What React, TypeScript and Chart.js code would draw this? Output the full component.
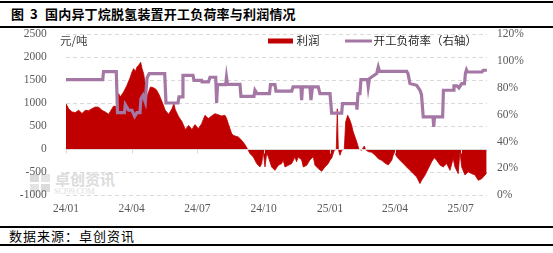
import React, { useEffect, useRef } from 'react';
import { Chart, registerables } from 'chart.js';

Chart.register(...registerables);

// ---- data ----
const titleText = '国内异丁烷脱氢装置开工负荷率与利润情况';
const seriesNames = ['利润', '开工负荷率（右轴）'];
const unitLabel = '元/吨';
const sourceText = '数据来源：卓创资讯';

// x values are days since 2024-01-01
const quarterDays = [0, 91, 182, 274, 366, 456, 547];
const quarterLabels = ['24/01', '24/04', '24/07', '24/10', '25/01', '25/04', '25/07'];

const profitDays = [
  0, 3.7, 8.3, 12.9, 17.6, 22.2, 26.8, 31.4, 36, 40.7, 45.3, 49.9, 54.5, 59.1, 63.7, 66.1, 70.7, 73, 75.3, 79.9,
  84.5, 89.2, 91.5, 93.8, 96.1, 98.4, 100.7, 103.5, 105.3, 107.6, 110, 112.3, 114.6, 117, 121, 125, 128.4, 133, 137.6, 142.3,
  146.9, 149.5, 151.5, 156.1, 160.8, 165.4, 170, 174.6, 178.8, 183.4, 188, 192.6, 197.2, 201.9, 206.5, 211.1, 215.7, 220.3, 222.7, 224.9,
  227.3, 229.6, 231.9, 234.2, 238.8, 243.5, 248.1, 251.8, 255, 259.6, 264.3, 268.8, 271.2, 273.4, 275.8, 278.1, 280.4, 285, 289.6, 294.2,
  298.9, 301, 303.5, 308.1, 312.8, 317.4, 319.5, 321.9, 326.6, 328.9, 333.6, 338.1, 342.7, 345.1, 349.6, 354.4, 358.9, 363.5, 366, 368.2,
  371.8, 374.6, 376, 377.4, 379.7, 382.1, 385.7, 387.6, 390.4, 393.6, 395.9, 398.1, 401.5, 404.2, 406, 409.8, 413.4, 415.3, 418.9, 423.6,
  428.2, 432.8, 437.5, 442.1, 446.6, 451.4, 455, 458.3, 462.9, 467.4, 472.1, 476.7, 481.3, 486, 490.6, 492.9, 497.5, 502.1, 506.8, 510.4,
  513.7, 518.3, 522.9, 527.6, 532.2, 536.7, 539.1, 543.6, 546, 548.4, 552.9, 557.5, 562.2, 566.8, 571.4, 576.1, 580.7, 583,
];
const profitValues = [
  990, 880, 811, 800, 848, 780, 848, 840, 884, 920, 915, 848, 811, 760, 884, 942, 920, 1210, 1140, 1246,
  1391, 1572, 1681, 1754, 1690, 1790, 1826, 1890, 1760, 1645, 1400, 1150, 1250, 1355, 1340, 1300, 1210, 1040, 848, 760,
  884, 993, 860, 710, 600, 430, 520, 430, 537, 449, 558, 739, 667, 725, 775, 750, 725, 739, 667, 558,
  449, 341, 304, 290, 268, 196, 101, 0, -94, -167, -311, -384, -311, -50, -384, -90, -160, -384, -457, -348,
  -311, -230, -384, -348, -311, -167, -270, -167, -230, -384, -348, -230, -160, -348, -420, -478, -384, -311, -230, -196,
  -20, 0, 880, 0, -130, -20, 0, 594, 739, 630, 522, 377, 232, 100, 0, -20, 72, -10, -50, -65,
  -123, -203, -240, -300, -340, -240, -50, -160, -240, -311, -384, -457, -529, -601, -746, -674, -565, -420, -270, -181,
  -240, -340, -384, -311, -457, -200, -384, -529, -50, -384, -557, -490, -529, -557, -674, -640, -557, -522,
];

const loadDays = [
  0, 50.9, 52, 69.7, 71.4, 81, 82.2, 86.9, 91.5, 95.2, 98.4, 102.5, 103.9, 106.7, 109.9, 112.3, 115.4, 136.8, 138.6, 155.2,
  156.6, 160.8, 162.1, 176, 177.4, 188, 188.5, 197.5, 199.6, 207.5, 208.8, 210, 221.3, 222.4, 223.8, 241.1, 242.5, 260.5, 261.9, 264.7,
  282, 283.4, 289.6, 291, 312.8, 314.7, 325.6, 326.6, 327.7, 338.1, 339.5, 341.6, 349.6, 352, 365.9, 368.2, 382.1, 383.2, 402.6, 403.3,
  404.7, 407.4, 408.8, 417.8, 418.9, 420.6, 423.6, 430.6, 432.8, 434.5, 472.2, 474, 476.7, 486, 490.6, 492.7, 495.1, 508.6, 509.7, 510.7,
  522, 523.1, 536.7, 537.7, 541.9, 544.6, 548.4, 552.3, 553.6, 555, 556.4, 576.5, 578.3, 583.4,
];
const loadRates = [
  86.2, 86.2, 92.2, 92.2, 61.6, 61.6, 67.6, 63.4, 63.4, 58.9, 61.6, 61.6, 72, 74.5, 69.5, 87.4, 90.7, 90.7, 68.8, 68.8,
  73.3, 73.3, 89.4, 89.4, 85.7, 85.7, 84.5, 84.5, 88, 88, 68.8, 82.5, 82.5, 88, 82.7, 82.7, 73.8, 73.8, 78.3, 75.8,
  75.8, 82.5, 82.5, 77.7, 77.7, 80.8, 80.8, 71, 80.8, 80.8, 71, 80.8, 80.8, 75.8, 75.8, 61.3, 61.3, 68.3, 68.3, 63.9,
  75.8, 75.8, 86.2, 86.2, 80.8, 87, 88.2, 90.7, 95.6, 92.4, 92.4, 90.7, 83.3, 82, 78.3, 75, 58.4, 58.4, 51, 58.4,
  58.4, 78.3, 78.3, 81.5, 81.5, 80, 83.3, 83.3, 91, 93.5, 91.9, 91.9, 93.2, 93.2,
];

const leftMin = -1000;
const leftMax = 2500;
const leftStep = 500;
const rightMin = 0;
const rightMax = 120;
const rightStep = 20;

// ---- styles ----
const RED = '#C00000';
const PURPLE = '#A477A5';
const GRID = '#D9D9D9';
const TICK = '#595959';
const CJK = '"Noto Sans CJK SC", "Noto Sans", sans-serif';
const NUM = '"Liberation Serif", serif';

const overlayPlugin = {
  id: 'overlay',
  afterDatasetsDraw(chart: any) {
    const { ctx, chartArea, scales } = chart;
    const y0 = Math.round(scales.y.getPixelForValue(0)) + 0.5;
    ctx.save();
    ctx.strokeStyle = GRID;
    ctx.lineWidth = 1;
    ctx.setLineDash([]);
    ctx.beginPath();
    ctx.moveTo(chartArea.left, y0);
    ctx.lineTo(chartArea.right, y0);
    scales.x.ticks.forEach((t: any) => {
      const px = Math.round(scales.x.getPixelForValue(t.value)) + 0.5;
      ctx.moveTo(px, y0);
      ctx.lineTo(px, y0 + 4);
    });
    ctx.stroke();
    ctx.restore();
  },
  afterDraw(chart: any) {
    const { ctx, chartArea } = chart;
    const ly = chartArea.top + 6.7;
    ctx.save();
    ctx.textBaseline = 'middle';
    ctx.textAlign = 'left';
    ctx.font = `11.5px ${CJK}`;
    ctx.fillStyle = '#404040';
    ctx.fillText(unitLabel, 60, ly);
    const ds = chart.data.datasets;
    // legend item 1 (area)
    ctx.fillStyle = ds[0].backgroundColor;
    ctx.fillRect(268, ly - 2.5, 25, 5);
    ctx.fillStyle = '#262626';
    ctx.fillText(ds[0].label, 296.5, ly);
    // legend item 2 (line)
    ctx.strokeStyle = ds[1].borderColor;
    ctx.lineWidth = 3;
    ctx.beginPath();
    ctx.moveTo(345, ly);
    ctx.lineTo(372, ly);
    ctx.stroke();
    ctx.fillText(ds[1].label, 373.5, ly);
    ctx.restore();
  },
};

const fixVertical = (s: any) => {
  s.width = 66;
  s.paddingTop = 0;
  s.paddingBottom = 0;
};

export default function App() {
  const ref = useRef<HTMLCanvasElement>(null);

  useEffect(() => {
    const canvas = ref.current;
    if (!canvas) return;
    const chart = new Chart(canvas, {
      type: 'line',
      data: {
        datasets: [
          {
            label: seriesNames[0],
            data: profitDays.map((d, i) => ({ x: d, y: profitValues[i] })),
            yAxisID: 'y',
            borderColor: RED,
            backgroundColor: RED,
            borderWidth: 0.8,
            fill: 'origin',
            pointRadius: 0,
            tension: 0,
            order: 1,
          },
          {
            label: seriesNames[1],
            data: loadDays.map((d, i) => ({ x: d, y: loadRates[i] })),
            yAxisID: 'y1',
            borderColor: PURPLE,
            backgroundColor: PURPLE,
            borderWidth: 3.2,
            fill: false,
            pointRadius: 0,
            tension: 0,
            order: 0,
          },
        ],
      } as any,
      options: {
        animation: false,
        responsive: false,
        devicePixelRatio: 1,
        layout: { padding: { top: 14.3, bottom: 0, left: 0, right: 0 } },
        plugins: { legend: { display: false }, tooltip: { enabled: false } },
        scales: {
          x: {
            type: 'linear',
            min: quarterDays[0],
            max: 583.5,
            afterBuildTicks: (s: any) => {
              s.ticks = quarterDays.map((v) => ({ value: v }));
            },
            afterFit: (s: any) => {
              s.height = 29.7;
            },
            grid: { display: false, drawTicks: false },
            border: { display: false },
            ticks: {
              autoSkip: false,
              maxRotation: 0,
              padding: 7,
              color: TICK,
              font: { family: NUM, size: 11.5 },
              callback: (v: any) => {
                const i = quarterDays.indexOf(Number(v));
                return i >= 0 ? quarterLabels[i] : '';
              },
            },
          },
          y: {
            position: 'left',
            min: leftMin,
            max: leftMax,
            afterFit: fixVertical,
            ticks: {
              stepSize: leftStep,
              padding: 19.3,
              color: TICK,
              font: { family: NUM, size: 11.5 },
              callback: (v: any) => String(v),
            },
            grid: { color: GRID, drawTicks: false, lineWidth: 1 },
            border: { display: false, dash: [4, 3] },
          },
          y1: {
            position: 'right',
            min: rightMin,
            max: rightMax,
            afterFit: fixVertical,
            ticks: {
              stepSize: rightStep,
              padding: 10,
              color: TICK,
              font: { family: NUM, size: 11.5 },
              callback: (v: any) => `${v}%`,
            },
            grid: { display: false, drawTicks: false },
            border: { display: false },
          },
        },
      } as any,
      plugins: [overlayPlugin],
    });
    return () => chart.destroy();
  }, []);

  const line = (top: number, h: number) => (
    <div style={{ position: 'absolute', left: 0, top, width: 553, height: h, background: '#000' }} />
  );

  return (
    <div
      style={{
        position: 'absolute',
        left: 0,
        top: 0,
        width: 553,
        height: 253,
        background: '#fff',
        overflow: 'hidden',
        fontFamily: CJK,
      }}
    >
      {line(1, 2)}
      <div style={{ position: 'absolute', top: 6, left: 11, fontSize: 13, fontWeight: 'bold', lineHeight: '15px', color: '#000', whiteSpace: 'nowrap' }}>图</div>
      <div style={{ position: 'absolute', top: 6, left: 30, fontSize: 13, fontWeight: 'bold', lineHeight: '15px', color: '#000' }}>3</div>
      <div style={{ position: 'absolute', top: 6, left: 45, fontSize: 13, fontWeight: 'bold', lineHeight: '15px', letterSpacing: '0.2px', color: '#000', whiteSpace: 'nowrap' }}>{titleText}</div>
      {line(26, 2)}
      {/* watermark */}
      <div style={{ position: 'absolute', left: 30, top: 174, width: 22, height: 18, opacity: 0.35 }}>
        <div style={{ position: 'absolute', left: 0, top: 0, width: 9, height: 8, background: '#9a9a9a' }} />
        <div style={{ position: 'absolute', left: 11, top: 0, width: 9, height: 8, background: '#b5b5b5' }} />
        <div style={{ position: 'absolute', left: 0, top: 10, width: 9, height: 8, background: '#b5b5b5' }} />
        <div style={{ position: 'absolute', left: 11, top: 10, width: 9, height: 8, background: '#9a9a9a' }} />
      </div>
      <div style={{ position: 'absolute', left: 55, top: 170, fontSize: 15, fontWeight: 'bold', color: '#dcdcdc', whiteSpace: 'nowrap', lineHeight: '17px' }}>卓创资讯</div>
      <div style={{ position: 'absolute', left: 54, top: 187, fontSize: 8, color: '#dcdcdc', whiteSpace: 'nowrap', lineHeight: '9px', fontFamily: NUM }}>SCI99.COM</div>
      <canvas ref={ref} width={553} height={205} style={{ position: 'absolute', left: 0, top: 20, width: 553, height: 205 }} />
      {line(226, 2)}
      <div style={{ position: 'absolute', left: 9, top: 228, fontSize: 13, lineHeight: '16px', letterSpacing: '1px', color: '#000', whiteSpace: 'nowrap' }}>{sourceText}</div>
      {line(244, 2)}
    </div>
  );
}
